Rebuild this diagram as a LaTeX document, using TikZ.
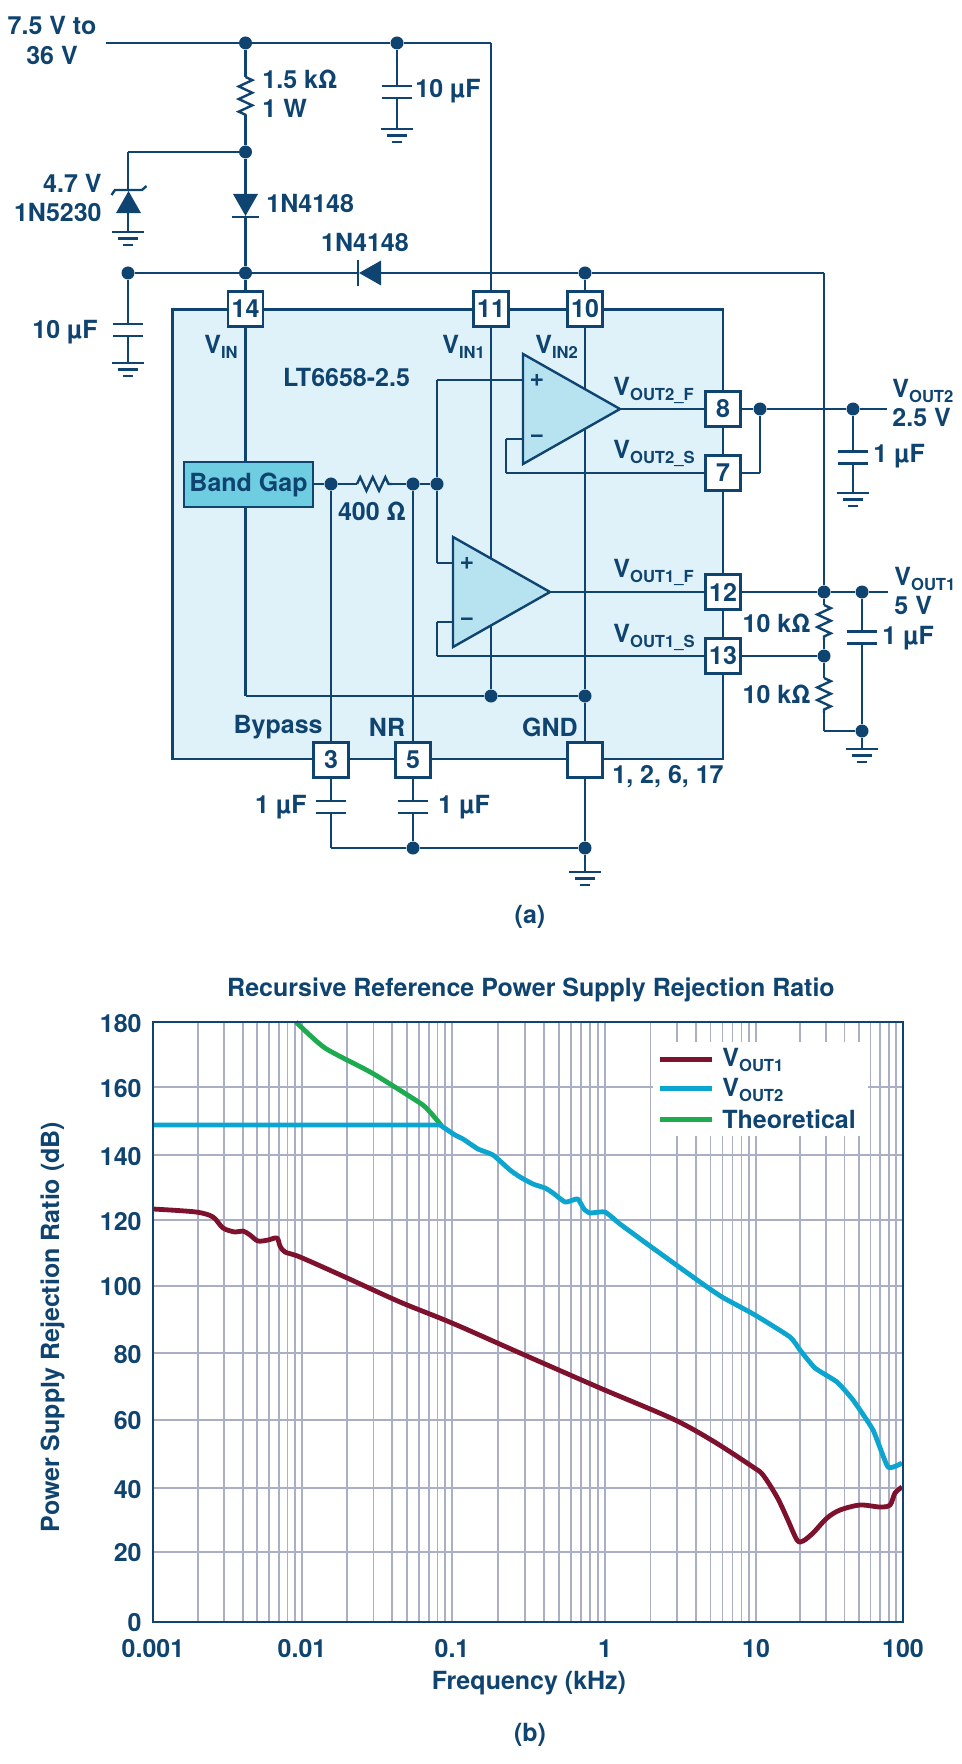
\documentclass[tikz,border=0pt]{standalone}
\usepackage{fontspec}
\setmainfont{TeX Gyre Heros}
\usetikzlibrary{shapes.geometric,decorations.pathmorphing}

\definecolor{adi}{HTML}{0F4470}
\definecolor{chipfill}{HTML}{E0F2F9}
\definecolor{opfill}{HTML}{B6E3EF}
\definecolor{gapfill}{HTML}{6ECDE0}
\definecolor{gridgray}{HTML}{ABAFC6}
\definecolor{curvered}{HTML}{7E122D}
\definecolor{curveblue}{HTML}{0BA5D0}
\definecolor{curvegreen}{HTML}{1DAB50}

\newcommand{\bigfont}{\bfseries\fontsize{12.5}{14.7}\selectfont}
\newcommand{\vsub}[2]{#1\raisebox{-2.5pt}{\fontsize{8.3}{9}\selectfont #2}}

\tikzstyle{wire}= [adi,line width=1.2pt]
\tikzstyle{dot}= [circle,fill=adi,inner sep=0pt,minimum size=6.5pt]
\tikzstyle{pinbox}= [rectangle,draw=adi,line width=1.2pt,fill=white,inner sep=0pt,minimum size=17.5pt]
\tikzstyle{zig}= [decorate,decoration={zigzag,segment length=6.3pt,amplitude=3.4pt}]
\tikzstyle{opamp}= [isosceles triangle,isosceles triangle stretches,draw=adi,line width=1.2pt,fill=opfill,inner sep=0pt,outer sep=0pt,minimum width=55pt,minimum height=48.5pt,anchor=lower side]
\tikzstyle{diode}= [isosceles triangle,isosceles triangle stretches,fill=adi,inner sep=0pt,minimum width=12.5pt,minimum height=11pt,anchor=apex]
\tikzstyle{capv}= [rectangle,inner sep=0pt,minimum width=15pt,minimum height=5.5pt,
	append after command={(\tikzlastnode.north west) edge[wire] (\tikzlastnode.north east) (\tikzlastnode.south west) edge[wire] (\tikzlastnode.south east)}]
\tikzstyle{gnd}= [rectangle,inner sep=0pt,anchor=north,minimum width=16pt,minimum height=8pt,
	append after command={(\tikzlastnode.north west) edge[wire] (\tikzlastnode.north east)
	([xshift=-5.2pt,yshift=-3.25pt]\tikzlastnode.north) edge[wire] ([xshift=5.2pt,yshift=-3.25pt]\tikzlastnode.north)
	([xshift=-2.7pt,yshift=-6.5pt]\tikzlastnode.north) edge[wire] ([xshift=2.7pt,yshift=-6.5pt]\tikzlastnode.north)}]
\tikzstyle{gridline}= [gridgray,line width=0.85pt]
\tikzstyle{curve}= [line width=2.4pt,line join=round]

\begin{document}
\begin{tikzpicture}[x=0.5pt,y=-0.5pt,every node/.style={font=\bigfont,text=adi,inner sep=0pt}]
		\useasboundingbox (0,0) rectangle (962,1764);

		\node (chip) at (447.75,534.25) [rectangle,draw=adi,line width=1.2pt,fill=chipfill,minimum width=275.25pt,minimum height=224.75pt] {};

		\node (pin14) at (245.5,309) [pinbox] {14};
		\node (pin11) at (491,309) [pinbox] {11};
		\node (pin10) at (585,309) [pinbox] {10};
		\node (pin8) at (723,409) [pinbox] {8};
		\node (pin7) at (723,473) [pinbox] {7};
		\node (pin12) at (723,592) [pinbox] {12};
		\node (pin13) at (723,656) [pinbox] {13};
		\node (pin3) at (331,760) [pinbox] {3};
		\node (pin5) at (413,760) [pinbox] {5};
		\node (pingnd) at (585,760) [pinbox] {};

		\node (bandgap) at (248.5,484.5) [rectangle,draw=adi,line width=1.2pt,fill=gapfill,inner sep=0pt,minimum width=64.5pt,minimum height=22.5pt] {Band Gap};

		\node (jtop1) at (245.5,43) [dot] {};
		\node (jtop2) at (397,43) [dot] {};
		\node (jzen) at (245.5,152) [dot] {};
		\node (jbus) at (245.5,273) [dot] {};
		\node (jcap) at (128,273) [dot] {};
		\node (jv2) at (585,273) [dot] {};
		\node (jbg) at (331,484) [dot] {};
		\node (jnr) at (413,484) [dot] {};
		\node (jplus) at (437,484) [dot] {};
		\node (jgnd1) at (491,696) [dot] {};
		\node (jgnd2) at (585,696) [dot] {};
		\node (jc5) at (413,848) [dot] {};
		\node (jc6) at (585,848) [dot] {};
		\node (jout8) at (760,409) [dot] {};
		\node (jcap8) at (853,409) [dot] {};
		\node (jout12) at (824,592) [dot] {};
		\node (jcap12) at (862,592) [dot] {};
		\node (jdiv) at (824,656) [dot] {};
		\node (jgnd3) at (862,731) [dot] {};

		\coordinate (vin) at (106,43);
		\coordinate (ctop) at (491,43);
		\coordinate (czen) at (128,152);
		\coordinate (cfb) at (824,273);
		\coordinate (cbg) at (245.5,696);
		\coordinate (cplus) at (437,380);
		\coordinate (cop2in) at (523,380);
		\coordinate (cop2m) at (523,439);
		\coordinate (cfb2a) at (506,439);
		\coordinate (cfb2b) at (506,473);
		\coordinate (cop1p) at (437,563);
		\coordinate (cop1in) at (453,563);
		\coordinate (cop1m) at (453,622);
		\coordinate (cfb1a) at (437,622);
		\coordinate (cfb1b) at (437,656);
		\coordinate (c7r) at (760,473);
		\coordinate (c3b) at (331,848);
		\coordinate (cdiv) at (824,731);
		\coordinate (vout2) at (887,409);
		\coordinate (vout1) at (888,592);

		\node (c1) at (397,92) [capv] {};
		\node (c2) at (128,330) [capv] {};
		\node (c3) at (331,807) [capv] {};
		\node (c4) at (413,807) [capv] {};
		\node (c5) at (853,457.5) [capv] {};
		\node (c6) at (862,637.5) [capv] {};

		\node (g1) at (397,129) [gnd] {};
		\node (g2) at (128,232) [gnd] {};
		\node (g3) at (128,363) [gnd] {};
		\node (g4) at (585,872) [gnd] {};
		\node (g5) at (853,493) [gnd] {};
		\node (g6) at (862,749) [gnd] {};

		\coordinate (r1a) at (245.5,77);
		\coordinate (r1b) at (245.5,115);
		\coordinate (r2a) at (357,484);
		\coordinate (r2b) at (392,484);
		\coordinate (r3a) at (824,605);
		\coordinate (r3b) at (824,640);
		\coordinate (r4a) at (824,678);
		\coordinate (r4b) at (824,713);

		\node (d1) at (245.5,217) [diode,shape border rotate=-90] {};
		\node (d2) at (358,273) [diode,shape border rotate=180] {};
		\node (dz) at (128.5,190) [diode,shape border rotate=90] {};

		\path[wire] (vin) edge[] (jtop1);
		\path[wire] (jtop1) edge[] (jtop2);
		\path[wire] (jtop2) edge[] (ctop);
		\path[wire] (ctop) edge[] (pin11);
		\path[wire] (jtop1) edge[] (r1a);
		\path[wire] (r1b) edge[] (jzen);
		\path[wire] (jtop2) edge[] (c1);
		\path[wire] (c1) edge[] (g1);
		\path[wire] (jzen) edge[] (czen);
		\path[wire] (czen) edge[] (czen |- dz.apex);
		\path[wire] (czen |- dz.south) edge[] (g2);
		\path[wire] (jzen) edge[] (d1);
		\path[wire] (d1) edge[] (jbus);
		\path[wire] (jbus) edge[] (jcap);
		\path[wire] (jcap) edge[] (c2);
		\path[wire] (c2) edge[] (g3);
		\path[wire] (jbus) edge[] (pin14);
		\path[wire] (jbus) edge[] (d2);
		\path[wire] (d2) edge[] (jv2);
		\path[wire] (jv2) edge[] (cfb);
		\path[wire] (cfb) edge[] (jout12);
		\path[wire] (jv2) edge[] (pin10);

		\path[wire] (pin14) edge[] (pin14 |- bandgap.north);
		\path[wire] (pin14 |- bandgap.south) edge[] (cbg);
		\path[wire] (cbg) edge[] (jgnd1);
		\path[wire] (jgnd1) edge[] (jgnd2);
		\path[wire] (pin11) edge[] (jgnd1);
		\path[wire] (pin10) edge[] (jgnd2);
		\path[wire] (jgnd2) edge[] (pingnd);

		\path[wire] (bandgap.east |- jbg) edge[] (jbg);
		\path[wire] (jbg) edge[] (r2a);
		\path[wire] (r2b) edge[] (jnr);
		\path[wire] (jnr) edge[] (jplus);
		\path[wire] (jbg) edge[] (pin3);
		\path[wire] (jnr) edge[] (pin5);
		\path[wire] (jplus) edge[] (cplus);
		\path[wire] (cplus) edge[] (cop2in);
		\path[wire] (jplus) edge[] (cop1p);
		\path[wire] (cop1p) edge[] (cop1in);
		\path[wire] (cop2m) edge[] (cfb2a);
		\path[wire] (cfb2a) edge[] (cfb2b);
		\path[wire] (cfb2b) edge[] (pin7);
		\path[wire] (cop1m) edge[] (cfb1a);
		\path[wire] (cfb1a) edge[] (cfb1b);
		\path[wire] (cfb1b) edge[] (pin13);

		\path[wire] (pin3) edge[] (c3);
		\path[wire] (c3) edge[] (c3b);
		\path[wire] (c3b) edge[] (jc5);
		\path[wire] (pin5) edge[] (c4);
		\path[wire] (c4) edge[] (jc5);
		\path[wire] (jc5) edge[] (jc6);
		\path[wire] (pingnd) edge[] (jc6);
		\path[wire] (jc6) edge[] (g4);

		\path[wire] (pin8) edge[] (jout8);
		\path[wire] (jout8) edge[] (jcap8);
		\path[wire] (jcap8) edge[] (vout2);
		\path[wire] (jout8) edge[] (c7r);
		\path[wire] (c7r) edge[] (pin7);
		\path[wire] (jcap8) edge[] (c5);
		\path[wire] (c5) edge[] (g5);
		\path[wire] (pin12) edge[] (jout12);
		\path[wire] (jout12) edge[] (jcap12);
		\path[wire] (jcap12) edge[] (vout1);
		\path[wire] (jcap12) edge[] (c6);
		\path[wire] (c6) edge[] (jgnd3);
		\path[wire] (jgnd3) edge[] (g6);
		\path[wire] (jout12) edge[] (r3a);
		\path[wire] (r3b) edge[] (jdiv);
		\path[wire] (jdiv) edge[] (pin13);
		\path[wire] (jdiv) edge[] (r4a);
		\path[wire] (r4b) edge[] (cdiv);
		\path[wire] (cdiv) edge[] (jgnd3);

		\draw[wire,zig] (r1a) -- (r1b);
		\draw[wire,zig] (r2a) -- (r2b);
		\draw[wire,zig] (r3a) -- (r3b);
		\draw[wire,zig] (r4a) -- (r4b);

		\draw[wire] ([xshift=-6.7pt]d1.apex) -- ([xshift=6.7pt]d1.apex);
		\draw[wire] ([yshift=-6.4pt]d2.apex) -- ([yshift=6.4pt]d2.apex);
		\draw[wire] ([shift={(-8.5pt,-2.5pt)}]dz.apex) -- ([xshift=-6.75pt]dz.apex) -- ([xshift=6.75pt]dz.apex) -- ([shift={(9pt,2pt)}]dz.apex);

		\node (op2) at (523,409) [opamp] {};
		\node (op1) at (453,592) [opamp] {};
		\path[wire] (op2.apex) edge[] (pin8);
		\path[wire] (op1.apex) edge[] (pin12);

		\node (op2p) at (537,380) {+};
		\node (op2n) at (537,439) {−};
		\node (op1p) at (467,563) {+};
		\node (op1n) at (467,622) {−};

		\node (lvin) at (52,40.5) [align=center] {7.5 V to\\36 V};
		\node (lr1) at (262,94) [anchor=west,align=left] {1.5 kΩ\\1 W};
		\node (lc1) at (415,91) [anchor=west] {10 µF};
		\node (lz) at (102,198) [anchor=east,align=right] {4.7 V\\1N5230};
		\node (ld1) at (266,204) [anchor=west] {1N4148};
		\node (ld2) at (365,243) {1N4148};
		\node (lc2) at (65,332) {10 µF};
		\node (lvinp) at (204,347) [anchor=west] {\vsub{V}{IN}};
		\node (lvin1) at (442,347) [anchor=west] {\vsub{V}{IN1}};
		\node (lvin2) at (535,347) [anchor=west] {\vsub{V}{IN2}};
		\node (lchip) at (346.5,378) {LT6658-2.5};
		\node (lo2f) at (613,390) [anchor=west] {\vsub{V}{OUT2\_F}};
		\node (lo2s) at (613,453) [anchor=west] {\vsub{V}{OUT2\_S}};
		\node (lo1f) at (613,572) [anchor=west] {\vsub{V}{OUT1\_F}};
		\node (lo1s) at (613,637) [anchor=west] {\vsub{V}{OUT1\_S}};
		\node (lr2) at (372,511) {400 Ω};
		\node (lbyp) at (323,727) [anchor=east] {Bypass};
		\node (lnr) at (387,727) {NR};
		\node (lgnd) at (550,727) {GND};
		\node (lpins) at (612,777) [anchor=west] {1, 2, 6, 17};
		\node (lc3) at (307,807) [anchor=east] {1 µF};
		\node (lc4) at (438,807) [anchor=west] {1 µF};
		\node (lout2) at (892,403) [anchor=west,align=left] {\vsub{V}{OUT2}\\2.5 V};
		\node (lc5) at (873,456) [anchor=west] {1 µF};
		\node (lout1) at (894,591) [anchor=west,align=left] {\vsub{V}{OUT1}\\5 V};
		\node (lc6) at (882,638) [anchor=west] {1 µF};
		\node (lr3) at (811,623) [anchor=east] {10 kΩ};
		\node (lr4) at (811,694) [anchor=east] {10 kΩ};
		\node (capa) at (530,917) {(a)};

		\foreach \xa/\xb in {153/302,302/452,452/605,605/756,756/903}
			\foreach \m in {2,...,9}
				\draw[gridline] ({\xa+(\xb-\xa)*log10(\m)},1022) -- ({\xa+(\xb-\xa)*log10(\m)},1622);
		\foreach \x in {302,452,605,756}
			\draw[gridgray,line width=1.4pt] (\x,1022) -- (\x,1622);
		\foreach \y in {1087,1155,1220,1286,1353,1420,1488,1552}
			\draw[gridline] (153,\y) -- (903,\y);

		\draw[curve,curvered] plot[smooth,tension=0.5] coordinates {(153,1209) (196,1212) (213,1217) (223,1228) (235,1232) (243,1231) (250,1235) (258,1241) (268,1240) (277,1238) (280,1246) (285,1252) (300,1257) (345,1277) (400,1302) (452,1323) (520,1353) (600,1388) (673,1419) (713,1441) (753,1467) (763,1475) (777,1497) (787,1518) (797,1540) (803,1541) (813,1533) (827,1518) (840,1510) (860,1505) (880,1507) (890,1505) (895,1493) (902,1487)};
		\draw[curve,curvegreen] plot[smooth,tension=0.4] coordinates {(296,1022) (325,1048) (372,1073) (420,1103) (430,1112) (441,1125)};
		\draw[curve,curveblue] (153,1125) -- (440,1125) -- plot[smooth,tension=0.3] coordinates {(440,1125) (455,1135) (463,1139) (478,1149) (493,1155) (510,1170) (520,1177) (533,1184) (545,1188) (553,1193) (565,1202) (573,1200) (578,1199) (584,1209) (590,1213) (605,1212) (620,1224) (650,1246) (700,1282) (722,1297) (755,1315) (790,1337) (800,1350) (815,1368) (837,1382) (853,1400) (873,1430) (888,1467) (902,1463)};

		\node (legbox) at (760.5,1089) [rectangle,fill=white,minimum width=107.5pt,minimum height=47pt] {};
		\coordinate (leg1a) at (660,1059);
		\coordinate (leg1b) at (712,1059);
		\coordinate (leg2a) at (660,1088);
		\coordinate (leg2b) at (712,1088);
		\coordinate (leg3a) at (660,1119);
		\coordinate (leg3b) at (712,1119);
		\draw[curvered,line width=2.5pt] (leg1a) -- (leg1b);
		\draw[curveblue,line width=2.5pt] (leg2a) -- (leg2b);
		\draw[curvegreen,line width=2.5pt] (leg3a) -- (leg3b);
		\node (lleg1) at (722,1060) [anchor=west] {\vsub{V}{OUT1}};
		\node (lleg2) at (722,1090) [anchor=west] {\vsub{V}{OUT2}};
		\node (lleg3) at (722,1119) [anchor=west] {Theoretical};

		\node (plot) at (528,1322) [rectangle,draw=adi,line width=1.35pt,minimum width=375pt,minimum height=300pt] {};

		\node (t180) at (142,1024) [anchor=east] {180};
		\node (t160) at (142,1089) [anchor=east] {160};
		\node (t140) at (142,1157) [anchor=east] {140};
		\node (t120) at (142,1222) [anchor=east] {120};
		\node (t100) at (142,1287) [anchor=east] {100};
		\node (t80) at (142,1355) [anchor=east] {80};
		\node (t60) at (142,1421) [anchor=east] {60};
		\node (t40) at (142,1490) [anchor=east] {40};
		\node (t20) at (142,1553) [anchor=east] {20};
		\node (t0) at (142,1623) [anchor=east] {0};

		\node (f1) at (153,1649) {0.001};
		\node (f2) at (302,1649) {0.01};
		\node (f3) at (452,1649) {0.1};
		\node (f4) at (605,1649) {1};
		\node (f5) at (756,1649) {10};
		\node (f6) at (903,1649) {100};

		\node (title) at (531,990) {Recursive Reference Power Supply Rejection Ratio};
		\node (xlab) at (529,1683) {Frequency (kHz)};
		\node (ylab) at (52.5,1327) [rotate=90] {Power Supply Rejection Ratio (dB)};
		\node (capb) at (530,1735) {(b)};
\end{tikzpicture}
\end{document}
